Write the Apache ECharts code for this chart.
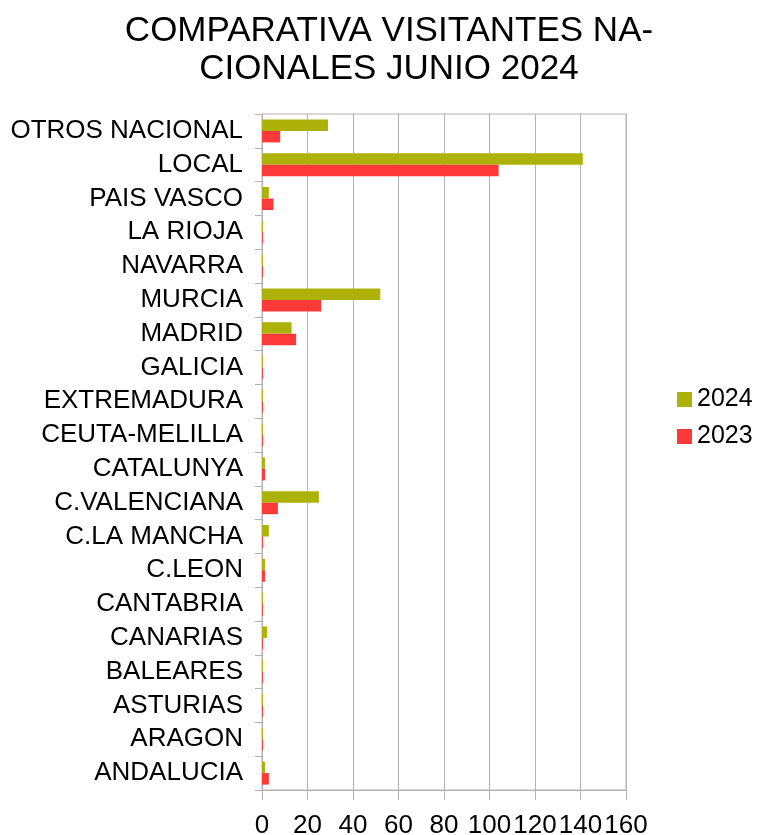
<!DOCTYPE html>
<html><head><meta charset="utf-8">
<script src="https://cdn.jsdelivr.net/npm/echarts@6/dist/echarts.min.js"></script>
<style>html,body{margin:0;padding:0;background:#fff}#c{width:758px;height:835px}</style>
</head><body><div id="c"></div>
<script>
const categories = ['ANDALUCIA','ARAGON','ASTURIAS','BALEARES','CANARIAS','CANTABRIA','C.LEON','C.LA MANCHA','C.VALENCIANA','CATALUNYA','CEUTA-MELILLA','EXTREMADURA','GALICIA','MADRID','MURCIA','NAVARRA','LA RIOJA','PAIS VASCO','LOCAL','OTROS NACIONAL'];
const values2024 = [1.3,0.4,0.4,0.4,2.2,0.4,1.3,3,25,1.3,0.4,0.4,0.4,13,52,0.4,0.4,3,141,29];
const values2023 = [3,0.4,0.4,0.4,0.4,0.4,1.3,0.4,7,1.3,0.4,0.4,0.4,15,26,0.4,0.4,5,104,8];
const xTicks = [0,20,40,60,80,100,120,140,160];

const FONT = 'Liberation Sans';
const chart = echarts.init(document.getElementById('c'));
chart.setOption({
  animation:false,
  textStyle:{fontFamily:FONT},
  title:{
    text:'COMPARATIVA VISITANTES NA-\nCIONALES JUNIO 2024',
    left:384, textAlign:'center', top:7,
    textStyle:{fontFamily:FONT,fontSize:35,fontWeight:'normal',color:'#000',lineHeight:38.5}
  },
  legend:{
    orient:'vertical', left:672, top:382,
    data:['2024','2023'],
    itemWidth:15,itemHeight:15,itemGap:12,
    icon:'rect',
    textStyle:{fontFamily:FONT,fontSize:25,color:'#000'}
  },
  grid:{left:262,right:132,top:114,bottom:45,show:true,borderColor:'#b3b3b3',borderWidth:1,containLabel:false,outerBoundsMode:'none'},
  xAxis:{
    type:'value',min:0,max:160,interval:20,
    axisLine:{show:true,lineStyle:{color:'#b3b3b3'}},
    axisTick:{show:true,length:10,lineStyle:{color:'#b3b3b3'}},
    splitLine:{show:true,lineStyle:{color:'#b3b3b3'}},
    axisLabel:{fontFamily:FONT,fontSize:26,color:'#000',margin:23,hideOverlap:false,
      formatter:v=>xTicks.includes(v)?String(v):''}
  },
  yAxis:{
    type:'category',data:categories,
    axisLine:{show:true,lineStyle:{color:'#b3b3b3'}},
    axisTick:{show:true,length:7,lineStyle:{color:'#b3b3b3'}},
    axisLabel:{fontFamily:FONT,fontSize:26,color:'#000',margin:19,interval:0,hideOverlap:false}
  },
  series:[
    {name:'2024',type:'bar',data:values2024,itemStyle:{color:'#adb20b'},barGap:'0%',barCategoryGap:'32%'},
    {name:'2023',type:'bar',data:values2023,itemStyle:{color:'#ff3838'},barGap:'0%',barCategoryGap:'32%'}
  ]
});
</script></body></html>
